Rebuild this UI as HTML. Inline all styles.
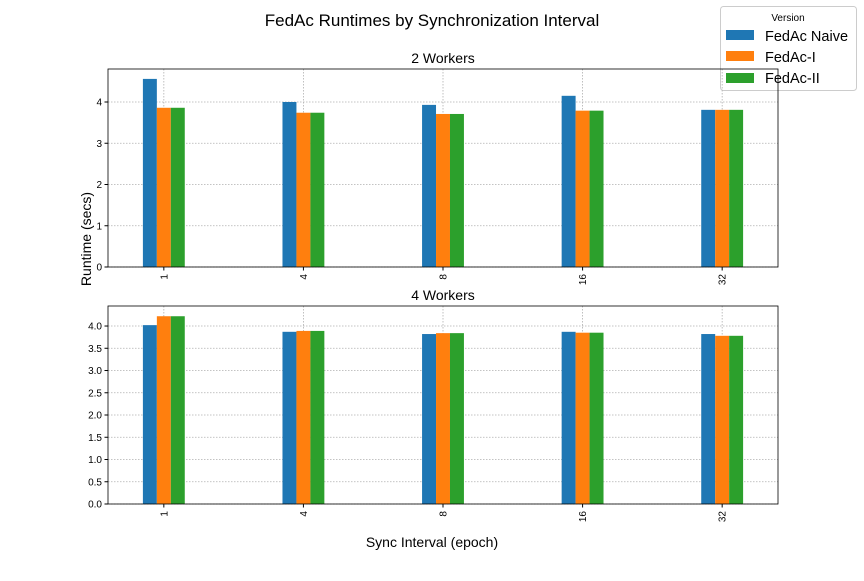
<!DOCTYPE html>
<html><head><meta charset="utf-8"><style>
body{margin:0;background:#fff;font-family:"Liberation Sans","DejaVu Sans",sans-serif;}
</style></head><body>
<svg id="c" width="864" height="576" xmlns="http://www.w3.org/2000/svg" font-family="Liberation Sans, DejaVu Sans, sans-serif">
<text x="432" y="26" font-size="17" text-anchor="middle">FedAc Runtimes by Synchronization Interval</text>
<text x="91" y="239" font-size="14" text-anchor="middle" transform="rotate(-90 91 239)">Runtime (secs)</text>
<text x="432" y="547" font-size="14" text-anchor="middle">Sync Interval (epoch)</text>
<g id="legend">
<rect x="720.5" y="6.5" width="136" height="84" fill="#fff" stroke="#ccc" rx="3"/>
<text x="788" y="21" font-size="10" text-anchor="middle">Version</text>
<rect x="726" y="30" width="28" height="10" fill="#1f77b4"/><text x="765" y="41" font-size="14.5">FedAc Naive</text>
<rect x="726" y="51" width="28" height="10" fill="#ff7f0e"/><text x="765" y="62" font-size="14.5">FedAc-I</text>
<rect x="726" y="73" width="28" height="10" fill="#2ca02c"/><text x="765" y="83" font-size="14.5">FedAc-II</text>
</g>
</svg>
<script>
const categories=["1","4","8","16","32"];
const naive2=[4.56,4.0,3.93,4.15,3.81];
const fedI2=[3.86,3.74,3.71,3.79,3.81];
const fedII2=[3.86,3.74,3.71,3.79,3.81];
const naive4=[4.02,3.87,3.82,3.87,3.82];
const fedI4=[4.22,3.89,3.84,3.85,3.78];
const fedII4=[4.22,3.89,3.84,3.85,3.78];
const ticks2=[0,1,2,3,4];
const ticks4=[0,0.5,1,1.5,2,2.5,3,3.5,4];
const colors=["#1f77b4","#ff7f0e","#2ca02c"];
const svg=document.getElementById('c');
const NS="http://www.w3.org/2000/svg";
function mk(t,a){const e=document.createElementNS(NS,t);for(const k in a)e.setAttribute(k,a[k]);svg.appendChild(e);return e;}
function panel(top,ymax,ticks,fmt,series,title,name){
  const L=108,R=778,B=top+198;
  const x=v=>L+(v+0.4)/4.8*(R-L);
  const y=v=>B-v/ymax*198;
  const t=mk('text',{x:(L+R)/2,y:top-6,'font-size':14,'text-anchor':'middle'});t.textContent=title;
  
  
  ticks.forEach(v=>{
    const g=mk('line',{x1:L,x2:R,y1:y(v),y2:y(v),stroke:'#b0b0b0','stroke-width':0.8,'stroke-dasharray':'1.5,1.5'});
    
    
    mk('line',{x1:L-3.5,x2:L,y1:y(v),y2:y(v),stroke:'#000'});
    const l=mk('text',{x:L-6,y:y(v)+3.5,'font-size':10,'text-anchor':'end'});l.textContent=fmt(v);
    
    
  });
  categories.forEach((c,i)=>{
    const g=mk('line',{x1:x(i),x2:x(i),y1:top,y2:B,stroke:'#b0b0b0','stroke-width':0.8,'stroke-dasharray':'1.5,1.5'});
    
    
  });
  const bw=0.1/4.8*(R-L);
  series.forEach((s,j)=>{
    s.forEach((v,i)=>{
      const cx=x(i)+(j-1)*bw;
      const r=mk('rect',{x:cx-bw/2,y:y(v),width:bw,height:B-y(v),fill:colors[j]});
      
      
    });
  });
  categories.forEach((c,i)=>{
    mk('line',{x1:x(i),x2:x(i),y1:B,y2:B+3.5,stroke:'#000'});
    const l=mk('text',{x:x(i)+3.5,y:B+7,'font-size':10,'text-anchor':'end',transform:`rotate(-90 ${x(i)+3.5} ${B+7})`});l.textContent=c;
    
    
  });
  const f=mk('rect',{x:L,y:top,width:R-L,height:198,fill:'none',stroke:'#000','stroke-width':0.8});
  
  
}
panel(69,4.8,ticks2,v=>String(v),[naive2,fedI2,fedII2],"2 Workers","panel-2-workers");
panel(306,4.45,ticks4,v=>v.toFixed(1),[naive4,fedI4,fedII4],"4 Workers","panel-4-workers");
</script>
</body></html>
